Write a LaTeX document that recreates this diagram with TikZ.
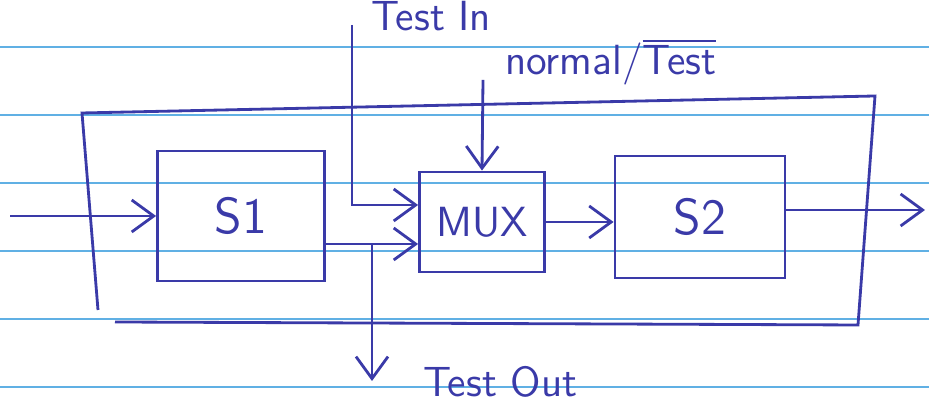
\documentclass[tikz,border=0pt]{standalone}
\usetikzlibrary{arrows.meta}
\definecolor{ink}{RGB}{58,58,168}
\definecolor{ruled}{RGB}{96,176,228}

\begin{document}
\begin{tikzpicture}[>={Straight Barb[length=2.2mm,width=3.2mm]}, thick,
    block/.style={draw=ink, minimum width=#1, inner sep=0pt, font=\sffamily\Large, text=ink},
    lbl/.style={font=\sffamily\large, text=ink}]
    \useasboundingbox (0,0) rectangle (9.29,4.05);

    % Ruled lines of the paper
    \foreach \y in {3.58,2.90,2.22,1.54,0.86,0.18}
        \draw[ruled, thin] (0,\y) -- (9.29,\y);

    \begin{scope}[draw=ink, color=ink]
    % Blocks
    \node[block=1.67cm, minimum height=1.30cm] (s1) at (2.41,1.89) {S1};
    \node[block=1.25cm, minimum height=1.00cm, font=\sffamily\large] (mux) at (4.82,1.83) {MUX};
    \node[block=1.70cm, minimum height=1.22cm] (s2) at (7.00,1.88) {S2};

    % Outer boundary (open at the lower left)
    \draw (1.15,0.83) -- (8.58,0.80) -- (8.75,3.09) -- (0.82,2.92) -- (0.98,0.95);

    % Free ends
    \coordinate (in) at (0.10,1.89);
    \coordinate (tin) at (3.52,3.80);
    \coordinate (sel) at (4.83,3.25);
    \coordinate (branch) at (3.72,1.61);
    \coordinate (tout) at (3.72,0.24);
    \coordinate (out) at (9.25,1.95);

    % Labels
    \node[lbl, anchor=base west] at (3.58,3.74) {Test In};
    \node[lbl, anchor=base west] at (4.92,3.30) {normal/$\overline{\mbox{Test}}$};
    \node[lbl, anchor=base west] at (4.10,0.08) {Test Out};

    % Connectors
    \draw[->] (in) -- (s1.west);
    \draw[->] (tin) |- ([yshift=1.7mm]mux.west);
    \draw[->] (s1.east |- branch) -- (mux.west |- branch);
    \draw[->] (branch) -- (tout);
    \draw[->] (sel) -- (mux.north);
    \draw[->] (mux.east) -- (mux.east -| s2.west);
    \draw[->] (s2.east |- out) -- (out);
    \end{scope}
\end{tikzpicture}
\end{document}
